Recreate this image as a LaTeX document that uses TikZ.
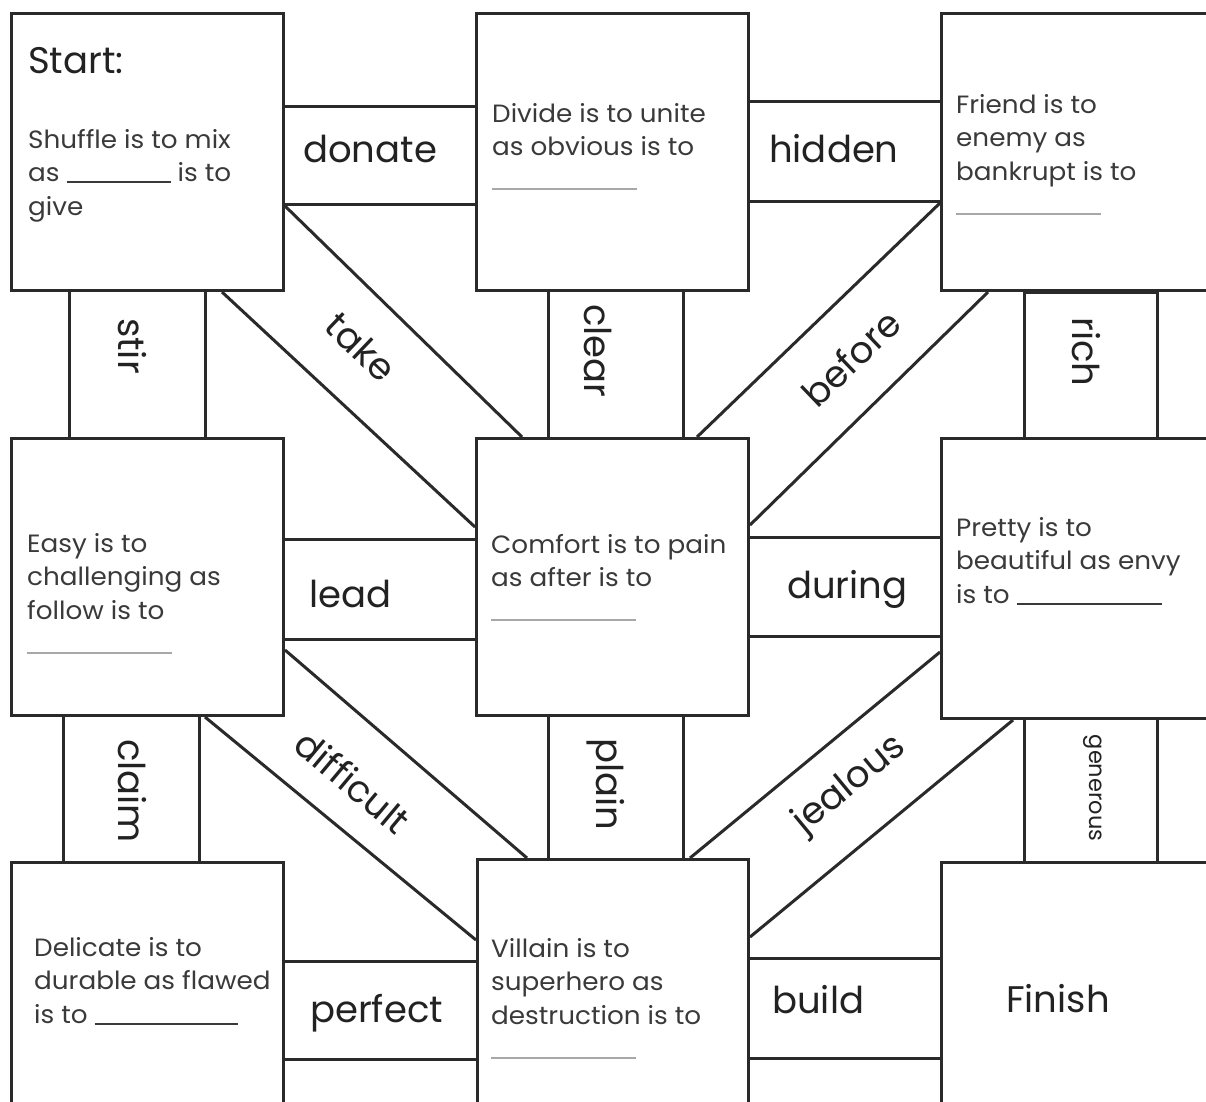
\documentclass[tikz,border=0pt]{standalone}
\usepackage{fontspec}
\setmainfont{Poppins}
\newfontfamily\qfam[FakeStretch=1.05]{Poppins}
\definecolor{linec}{HTML}{2A2A2A}
\definecolor{qtext}{HTML}{3A3A3A}
\definecolor{ltext}{HTML}{222222}
\definecolor{blankc}{HTML}{A8A8A8}
\newcommand{\qfont}{\qfam\fontsize{25}{33.5}\selectfont}
\newcommand{\lfont}{\fontsize{37}{40}\selectfont}
\newcommand{\gfont}{\fontsize{22.5}{25}\selectfont}
\newcommand{\blankrow}{\textcolor{blankc}{\rule[-1pt]{145pt}{2pt}}}
\newcommand{\qlines}[1]{\begin{tabular}[t]{@{}l@{}}#1\end{tabular}}
\begin{document}
\begin{tikzpicture}[x=1pt,y=-1pt,
  box/.style={draw=linec,line width=3pt,inner sep=0pt,anchor=north west},
  strip/.style={draw=linec,line width=3pt,inner sep=0pt,anchor=north west},
  conn/.style={draw=linec,line width=3pt},
  qtxt/.style={inner sep=0pt,anchor=base west,text=qtext,font=\qfont},
  lbl/.style={inner sep=0pt,text=ltext,font=\lfont},
]
\useasboundingbox (0,0) rectangle (1206,1101);
\fill[white] (0,0) rectangle (1206,1101);
\clip (0,0) rectangle (1206,1101);

% boxes
\node[box,minimum width=272,minimum height=277] (start) at (10,12) {};
\node[box,minimum width=272,minimum height=277] (divide) at (475,12) {};
\node[box,minimum width=290,minimum height=277] (friend) at (940,12) {};
\node[box,minimum width=272,minimum height=277] (easy) at (10,437) {};
\node[box,minimum width=272,minimum height=277] (comfort) at (475,437) {};
\node[box,minimum width=290,minimum height=280] (pretty) at (940,437) {};
\node[box,minimum width=272,minimum height=270] (delicate) at (10,861) {};
\node[box,minimum width=271,minimum height=272] (villain) at (476,858) {};
\node[box,minimum width=290,minimum height=270] (finish) at (940,861) {};

% straight strips
\node[strip,minimum width=193,minimum height=98] (sdonate) at (282,105) {};
\node[strip,minimum width=193,minimum height=100] (shidden) at (747,100) {};
\node[strip,minimum width=193,minimum height=100] (slead) at (282,538) {};
\node[strip,minimum width=193,minimum height=99] (sduring) at (747,536) {};
\node[strip,minimum width=194,minimum height=98] (sperfect) at (282,960) {};
\node[strip,minimum width=193,minimum height=100] (sbuild) at (747,957) {};
\node[strip,minimum width=136,minimum height=148] (sstir) at (68,289) {};
\node[strip,minimum width=135,minimum height=148] (sclear) at (547,289) {};
\node[strip,minimum width=133,minimum height=146] (srich) at (1023,291) {};
\node[strip,minimum width=136,minimum height=147] (sclaim) at (62,714) {};
\node[strip,minimum width=135,minimum height=144] (splain) at (547,714) {};
\node[strip,minimum width=133,minimum height=144] (sgenerous) at (1023,717) {};

% diagonal strips
\draw[conn] (start.east |- 0,206) -- (comfort.north -| 522,0);
\draw[conn] (start.south -| 222,0) -- (comfort.west |- 0,527);
\draw[conn] (friend.west |- 0,203) -- (comfort.north -| 697,0);
\draw[conn] (friend.south -| 988,0) -- (comfort.east |- 0,525);
\draw[conn] (easy.east |- 0,650) -- (villain.north -| 527,0);
\draw[conn] (easy.south -| 205,0) -- (villain.west |- 0,940);
\draw[conn] (pretty.west |- 0,652) -- (villain.north -| 690,0);
\draw[conn] (pretty.south -| 1013,0) -- (villain.east |- 0,937);

% labels
\node[lbl,anchor=base west] (tstart) at (28,73) {Start:};
\node[lbl,anchor=base west] (tdonate) at (303,162) {donate};
\node[lbl,anchor=base west] (thidden) at (769,162) {hidden};
\node[lbl,anchor=base west] (tlead) at (309,607) {lead};
\node[lbl,anchor=base west] (tduring) at (787,598) {during};
\node[lbl,anchor=base west] (tperfect) at (310,1022) {perfect};
\node[lbl,anchor=base west] (tbuild) at (772,1013) {build};
\node[lbl,anchor=base west] (tfinish) at (1006,1012) {Finish};
\node[lbl,rotate=-90] (tstir) at (132,346) {stir};
\node[lbl,rotate=-90] (tclear) at (598,351) {clear};
\node[lbl,rotate=-90] (trich) at (1086,352) {rich};
\node[lbl,rotate=-90] (tclaim) at (132,791) {claim};
\node[lbl,rotate=-90] (tplain) at (606,784) {plain};
\node[lbl,rotate=-90,font=\gfont] (tgenerous) at (1093,788) {generous};
\node[lbl,rotate=-43.7] (ttake) at (361,347) {take};
\node[lbl,rotate=43.8] (tbefore) at (851,358) {before};
\node[lbl,rotate=-40] (tdifficult) at (353,782) {difficult};
\node[lbl,rotate=39.5] (tjealous) at (850,785) {jealous};

% questions
\node[qtxt] (qstart) at (28,148) {\qlines{Shuffle is to mix\\as \rule[-1.5pt]{104pt}{1.6pt} is to\\give}};
\node[qtxt] (qdivide) at (492,122) {\qlines{Divide is to unite\\as obvious is to\\\blankrow}};
\node[qtxt] (qfriend) at (956,113) {\qlines{Friend is to\\enemy as\\bankrupt is to\\\blankrow}};
\node[qtxt] (qeasy) at (27,552) {\qlines{Easy is to\\challenging as\\follow is to\\\blankrow}};
\node[qtxt] (qcomfort) at (491,553) {\qlines{Comfort is to pain\\as after is to\\\blankrow}};
\node[qtxt] (qpretty) at (956,536) {\qlines{Pretty is to\\beautiful as envy\\is to \rule[-1.5pt]{145pt}{1.6pt}}};
\node[qtxt] (qdelicate) at (34,956) {\qlines{Delicate is to\\durable as flawed\\is to \rule[-1.5pt]{143pt}{1.6pt}}};
\node[qtxt] (qvillain) at (491,957) {\qlines{Villain is to\\superhero as\\destruction is to\\\blankrow}};
\end{tikzpicture}
\end{document}
